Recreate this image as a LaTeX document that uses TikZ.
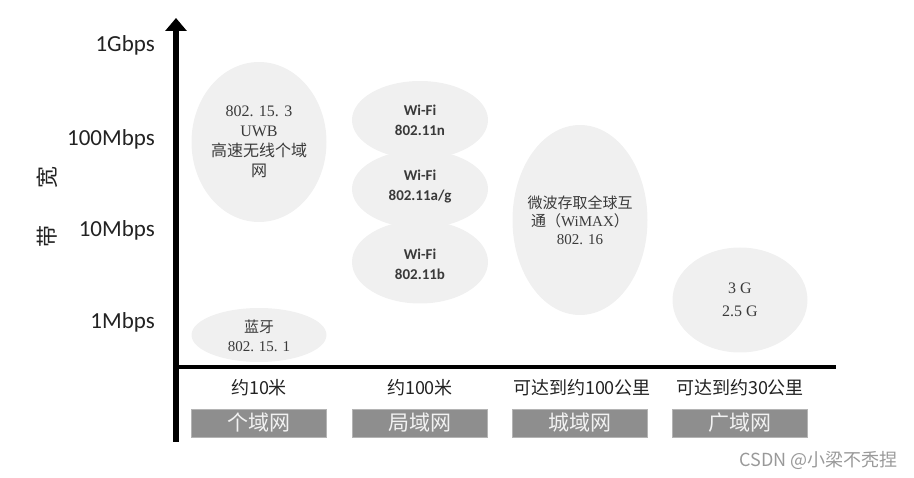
\documentclass[tikz,border=0pt]{standalone}
\usepackage{fontspec}
\setmainfont{Liberation Serif}
\newfontfamily\cjk{Noto Sans CJK SC}
\newfontfamily\calf{Carlito}
\usetikzlibrary{shapes.geometric,arrows.meta}
\definecolor{ellfill}{HTML}{F0F0F0}
\definecolor{boxfill}{HTML}{8E8E8E}
\definecolor{boxline}{HTML}{B4B4B4}
\definecolor{txt}{HTML}{222222}
\definecolor{ser}{HTML}{3A3A3A}
\begin{document}
\begin{tikzpicture}[x=1pt,y=-1pt,
  ellbg/.style={ellipse, fill=ellfill, inner sep=0pt},
  ticklbl/.style={anchor=base east, font=\calf\fontsize{23}{26}\selectfont, text=txt, inner sep=0pt},
  seriftxt/.style={align=center, text=ser, inner sep=0pt},
  wifitxt/.style={align=center, text=ser, inner sep=0pt, font=\calf\bfseries\fontsize{15}{20}\selectfont},
  rangelbl/.style={font=\cjk\fontsize{18}{22}\selectfont, text=txt, inner sep=0pt},
  netbox/.style={rectangle, fill=boxfill, draw=boxline, line width=0.8pt, minimum width=135pt, minimum height=28pt, inner sep=0pt, text=white!95!black, font=\cjk\fontsize{21}{24}\selectfont},
  axislbl/.style={font=\cjk\fontsize{22}{24}\selectfont, text=txt, rotate=90, inner sep=0pt}
]
\useasboundingbox (0,0) rectangle (914,478);

% ellipses
\node[ellbg, minimum width=135pt, minimum height=160pt] (uwb) at (259,142) {};
\node[ellbg, minimum width=135pt, minimum height=54pt] (bt) at (259,335) {};
\node[ellbg, minimum width=136pt, minimum height=83pt] (wb) at (420,262) {};
\node[ellbg, minimum width=136pt, minimum height=78pt] (wag) at (420,189) {};
\node[ellbg, minimum width=136pt, minimum height=78pt] (wn) at (420,120) {};
\node[ellbg, minimum width=135pt, minimum height=190pt] (wimax) at (580,220) {};
\node[ellbg, minimum width=135pt, minimum height=105pt] (g3) at (740,300) {};

% ellipse texts
\node[seriftxt, font=\fontsize{16}{20}\selectfont] (uwbt) at (uwb.center) {802. 15. 3\\UWB\\{\cjk 高速无线个域}\\{\cjk 网}};
\node[seriftxt, font=\fontsize{15}{19}\selectfont] (btt) at ([yshift=-1pt]bt.center) {{\cjk 蓝牙}\\802. 15. 1};
\node[wifitxt] (wnt) at (wn.center) {Wi-Fi\\802.11n};
\node[wifitxt] (wagt) at ([yshift=2pt]wag.center) {Wi-Fi\\802.11a/g};
\node[wifitxt] (wbt) at ([yshift=-2pt]wb.center) {Wi-Fi\\802.11b};
\node[seriftxt, font=\fontsize{15}{18}\selectfont] (wimaxt) at (wimax.center) {{\cjk 微波存取全球互}\\{\cjk 通（}WiMAX{\cjk ）}\\802. 16};
\node[seriftxt, font=\fontsize{16}{23}\selectfont] (g3t) at (g3.center) {3 G\\2.5 G};

% axes
\coordinate (ybot) at (176,442);
\coordinate (ytop) at (176,18);
\coordinate (xl) at (176,367);
\coordinate (xr) at (836,367);
\draw[line width=5.5pt, -{Triangle[width=21pt,length=13pt]}] (ybot) -- (ytop);
\draw[line width=4.5pt] (xl) -- (xr);

% tick labels
\node[ticklbl] (t1g) at (155,52) {1Gbps};
\node[ticklbl] (t100) at (155,146) {100Mbps};
\node[ticklbl] (t10) at (155,237) {10Mbps};
\node[ticklbl] (t1) at (155,329) {1Mbps};

% axis label
\node[axislbl] (kuan) at (47,178) {宽};
\node[axislbl] (dai) at (47,237) {带};

% ranges
\node[rangelbl] (r1) at (259,388) {约10米};
\node[rangelbl] (r2) at (420,388) {约100米};
\node[rangelbl] (r3) at (582,388) {可达到约100公里};
\node[rangelbl] (r4) at (740,388) {可达到约30公里};

% category boxes
\node[netbox] (b1) at (259,423) {个域网};
\node[netbox] (b2) at (420,423) {局域网};
\node[netbox] (b3) at (580,423) {城域网};
\node[netbox] (b4) at (740,423) {广域网};

% watermark
\node[anchor=east, inner sep=0pt, font=\cjk\fontsize{18}{20}\selectfont, text=black!40] (wm) at (898,460) {CSDN @小梁不秃捏};
\end{tikzpicture}
\end{document}
